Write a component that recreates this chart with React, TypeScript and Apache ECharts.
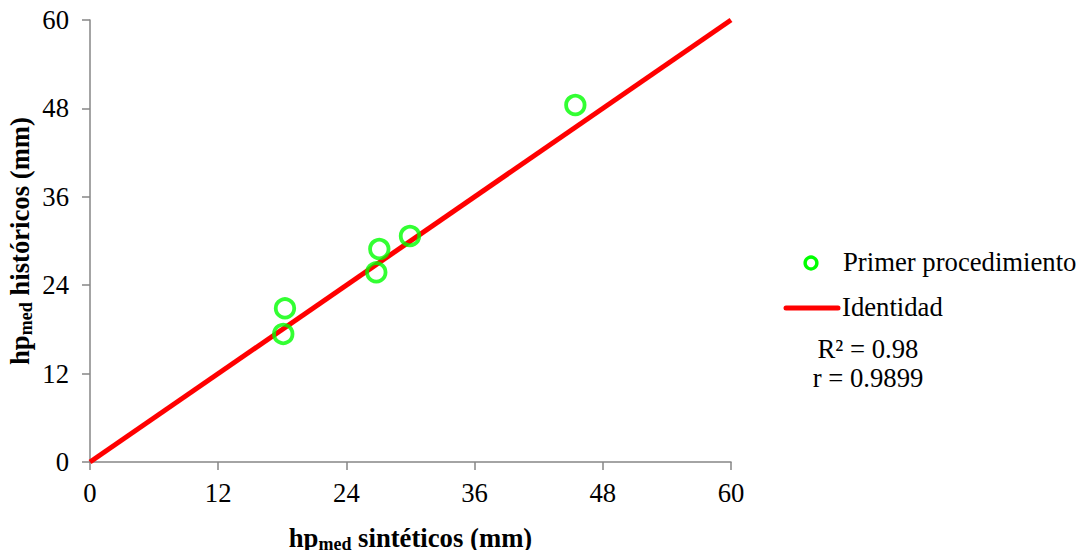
import React, { useEffect, useRef } from "react";
import * as echarts from "echarts";

const sinteticos = [18.25, 18.09, 27.08, 26.8, 29.95, 45.43];
const historicos = [20.86, 17.38, 28.91, 25.75, 30.68, 48.46];
const identityX = [0, 60];
const axisTicks = [0, 12, 24, 36, 48, 60];
const seriesNames = ["Primer procedimiento", "Identidad"];
const statsLines = ["R² = 0.98", "r = 0.9899"];

const FONT = "Liberation Serif";
const FS = 26.7;
const GREEN = "#00ff00";

export default function App() {
  const ref = useRef<HTMLDivElement>(null);
  useEffect(() => {
    if (!ref.current) return;
    const chart = echarts.init(ref.current, null, { renderer: "svg" });
    const rich = {
      b: { fontFamily: FONT, fontSize: FS, fontWeight: "bold", color: "#000", lineHeight: 30 },
      s: { fontFamily: FONT, fontSize: 18, fontWeight: "bold", color: "#000", lineHeight: 18, verticalAlign: "bottom", padding: [20, 0, 0, 0] },
    };
    const axisCommon = {
      type: "value" as const,
      min: axisTicks[0],
      max: axisTicks[axisTicks.length - 1],
      interval: 12,
      splitLine: { show: false },
      axisLine: { show: true, lineStyle: { color: "#868686", width: 1.5 } },
      axisTick: { show: true, inside: false, length: 8, lineStyle: { color: "#868686", width: 1.5 } },
      axisLabel: { fontFamily: FONT, fontSize: FS, color: "#000" },
      nameLocation: "middle" as const,
      nameMoveOverlap: false,
    };
    chart.setOption({
      animation: false,
      backgroundColor: "#fff",
      textStyle: { fontFamily: FONT },
      grid: { left: 90, right: 350, top: 20, bottom: 88, containLabel: false, outerBoundsMode: "none" },
      xAxis: {
        ...axisCommon,
        axisLabel: { ...axisCommon.axisLabel, margin: 17 },
        name: "{b|hp}{s|med}{b| sintéticos (mm)}",
        nameGap: 61,
        nameTextStyle: { rich, fontFamily: FONT },
      },
      yAxis: {
        ...axisCommon,
        axisLabel: { ...axisCommon.axisLabel, margin: 21 },
        name: "{b|hp}{s|med}{b| históricos (mm)}",
        nameGap: 55,
        nameRotate: 90,
        nameTextStyle: { rich, fontFamily: FONT },
      },
      series: [
        {
          name: seriesNames[1],
          type: "line",
          data: identityX.map((v) => [v, v]),
          symbol: "none",
          lineStyle: { color: "#ff0000", width: 5 },
          z: 1,
        },
        {
          name: seriesNames[0],
          type: "scatter",
          data: sinteticos.map((x, i) => [x, historicos[i]]),
          symbol: "circle",
          symbolSize: 18.5,
          itemStyle: { color: "rgba(0,0,0,0)", borderColor: GREEN, borderWidth: 3.8 },
          z: 3,
        },
      ],
      graphic: [
        { type: "circle", shape: { cx: 811, cy: 263, r: 5.9 }, style: { fill: "none", stroke: GREEN, lineWidth: 3.4 } },
        { type: "text", x: 843, y: 262, style: { text: seriesNames[0], fontFamily: FONT, fontSize: FS, fill: "#000", verticalAlign: "middle" } },
        { type: "line", shape: { x1: 786, y1: 308, x2: 838, y2: 308 }, style: { stroke: "#ff0000", lineWidth: 5, lineCap: "round" } },
        { type: "text", x: 842, y: 307, style: { text: seriesNames[1], fontFamily: FONT, fontSize: FS, fill: "#000", verticalAlign: "middle" } },
        { type: "text", x: 868, y: 349, style: { text: statsLines[0], fontFamily: FONT, fontSize: FS, fill: "#000", align: "center", verticalAlign: "middle" } },
        { type: "text", x: 868, y: 378, style: { text: statsLines[1], fontFamily: FONT, fontSize: FS, fill: "#000", align: "center", verticalAlign: "middle" } },
      ],
    });
    return () => chart.dispose();
  }, []);
  return <div ref={ref} style={{ width: 1081, height: 550, position: "absolute", left: 0, top: 0 }} />;
}
